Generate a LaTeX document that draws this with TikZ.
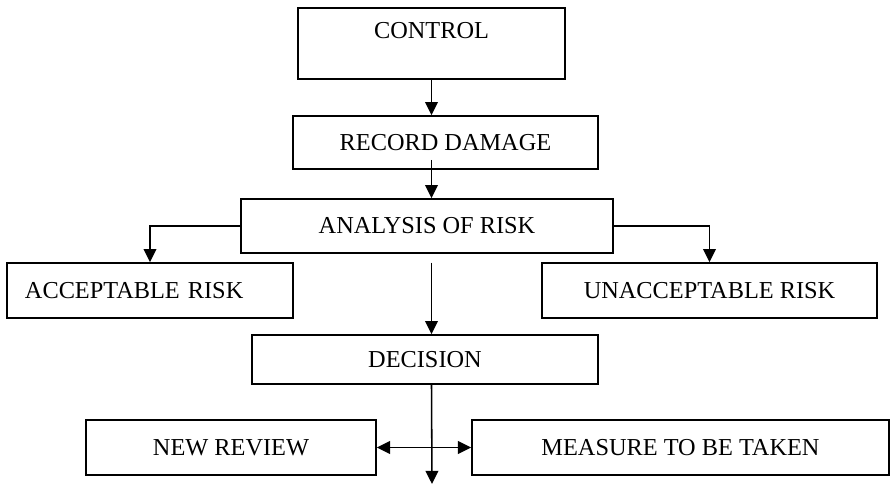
\documentclass[tikz,border=0pt]{standalone}
\usepackage{fontspec}
\setmainfont{Liberation Serif}
\usetikzlibrary{arrows.meta}

\begin{document}
\begin{tikzpicture}[x=0.025cm, y=-0.025cm,
    box/.style={draw, line width=1.1pt, minimum height=1.375cm, inner sep=0pt, font=\fontsize{17.3}{20}\selectfont},
    arr/.style={line width=1.1pt, -{Triangle[length=0.33cm, width=0.32cm]}},
    darr/.style={line width=1.1pt, {Triangle[length=0.33cm, width=0.32cm]}-{Triangle[length=0.33cm, width=0.32cm]}}]
    \useasboundingbox (0,0) rectangle (890,485);
    \node[box, anchor=north, minimum width=6.675cm, text height=0.775cm, text depth=1cm] (ctrl) at (431.5,7) {CONTROL};
    \node[box, minimum width=7.625cm, minimum height=1.325cm] (record) at (445.5,142.5) {RECORD DAMAGE};
    \node[box, minimum width=9.3cm, minimum height=1.35cm] (analysis) at (427,226) {ANALYSIS OF RISK};
    \node[box, text width=6.25cm, inner xsep=0.45cm, align=left] (accept) at (150,290.5) {ACCEPTABLE RISK};
    \node[box, minimum width=8.375cm] (unaccept) at (709.5,290.5) {UNACCEPTABLE RISK};
    \node[box, minimum width=8.65cm, minimum height=1.225cm] (decision) at (425,359.5) {DECISION};
    \node[box, minimum width=7.25cm] (newrev) at (231,447.5) {NEW REVIEW};
    \node[box, minimum width=10.425cm] (measure) at (680.5,447.5) {MEASURE TO BE TAKEN};
    \coordinate (out) at (432,484);
    \draw[arr] (ctrl.south) -- (ctrl.south |- record.north);
    \draw[arr, shorten <=-0.25cm] (ctrl.south |- record.south) -- (ctrl.south |- analysis.north);
    \draw[arr] (analysis.west) -| (accept.north);
    \draw[arr] (analysis.east) -| (unaccept.north);
    \draw[arr, shorten <=0.22cm] (ctrl.south |- analysis.south) -- (ctrl.south |- decision.north);
    \draw[arr] (ctrl.south |- decision.south) -- (out);
    \draw[darr] (newrev.east) -- (measure.west);
\end{tikzpicture}
\end{document}
